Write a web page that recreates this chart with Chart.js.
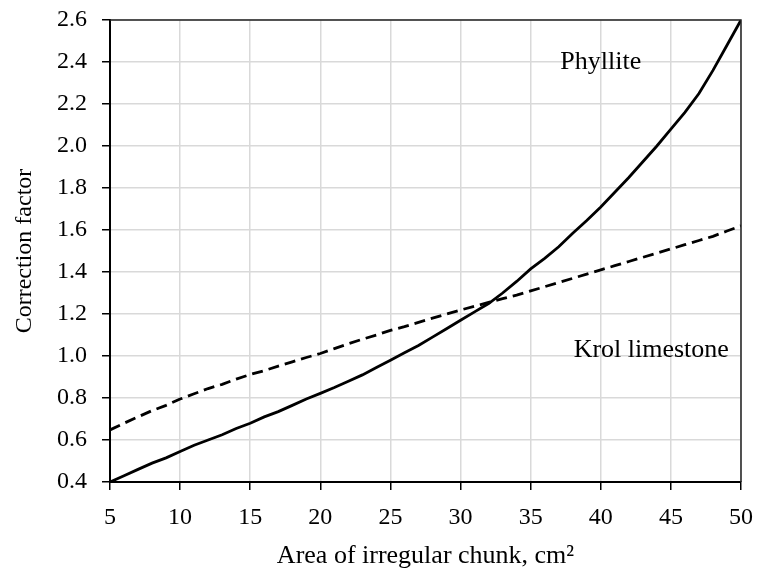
<!DOCTYPE html>
<html>
<head>
<meta charset="utf-8">
<script src="https://cdn.jsdelivr.net/npm/chart.js@4.4.0/dist/chart.umd.min.js"></script>
<style>
  html, body { margin: 0; padding: 0; background: #fff; }
  #wrap { width: 757px; height: 572px; }
</style>
</head>
<body>
<div id="wrap"><canvas id="grafico" width="757" height="572"></canvas></div>
<script>
// ── Datos ────────────────────────────────────────────────────
const areas = [5, 6, 7, 8, 9, 10, 11, 12, 13, 14, 15, 16, 17, 18, 19, 20, 21, 22, 23, 24, 25, 26, 27,
  28, 29, 30, 31, 32, 33, 34, 35, 36, 37, 38, 39, 40, 41, 42, 43, 44, 45, 46, 47, 48, 49, 50];

const phyllite = [0.40, 0.43, 0.46, 0.49, 0.515, 0.545, 0.575, 0.60, 0.625, 0.655, 0.68, 0.71, 0.735,
  0.765, 0.795, 0.822, 0.85, 0.88, 0.91, 0.945, 0.98, 1.015, 1.05, 1.09, 1.13, 1.17, 1.21, 1.25,
  1.30, 1.355, 1.415, 1.465, 1.52, 1.585, 1.645, 1.71, 1.78, 1.85, 1.925, 2.00, 2.08, 2.16, 2.25,
  2.36, 2.48, 2.60];

const krol = [0.648, 0.68, 0.71, 0.74, 0.765, 0.795, 0.82, 0.845, 0.865, 0.89, 0.912, 0.93, 0.952,
  0.972, 0.993, 1.012, 1.035, 1.058, 1.08, 1.10, 1.122, 1.14, 1.16, 1.18, 1.20, 1.219, 1.237, 1.255,
  1.273, 1.29, 1.31, 1.33, 1.35, 1.37, 1.39, 1.41, 1.43, 1.45, 1.47, 1.49, 1.51, 1.53, 1.55, 1.57,
  1.595, 1.62];

const xTicks = [5, 10, 15, 20, 25, 30, 35, 40, 45, 50];
const yTicks = [0.4, 0.6, 0.8, 1.0, 1.2, 1.4, 1.6, 1.8, 2.0, 2.2, 2.4, 2.6];

// etiquetas dentro del área del gráfico (coordenadas en unidades de datos)
const etiquetas = [
  { texto: 'Phyllite', x: 40, y: 2.40 },
  { texto: 'Krol limestone', x: 43.6, y: 1.03 }
];

const FUENTE = '"Liberation Serif", "Times New Roman", serif';

// marco superior/derecho + textos
const marcoYTextos = {
  id: 'marcoYTextos',
  afterDraw(chart) {
    const { ctx, chartArea: a, scales } = chart;
    ctx.save();
    ctx.strokeStyle = '#222';
    ctx.lineWidth = 1.5;
    ctx.beginPath();
    ctx.moveTo(a.left, a.top);
    ctx.lineTo(a.right, a.top);
    ctx.lineTo(a.right, a.bottom);
    ctx.stroke();

    ctx.fillStyle = '#000';
    ctx.font = '26px ' + FUENTE;
    ctx.textAlign = 'center';
    ctx.textBaseline = 'middle';
    etiquetas.forEach(e => {
      ctx.fillText(e.texto, scales.x.getPixelForValue(e.x), scales.y.getPixelForValue(e.y));
    });
    ctx.restore();
  }
};

const ctx = document.getElementById('grafico').getContext('2d');
new Chart(ctx, {
  type: 'line',
  data: {
    datasets: [
      {
        label: 'Phyllite',
        data: areas.map((a, i) => ({ x: a, y: phyllite[i] })),
        borderColor: '#000',
        borderWidth: 2.8,
        pointRadius: 0,
        tension: 0,
        fill: false
      },
      {
        label: 'Krol limestone',
        data: areas.map((a, i) => ({ x: a, y: krol[i] })),
        borderColor: '#000',
        borderWidth: 2.8,
        borderDash: [11, 6],
        pointRadius: 0,
        tension: 0,
        fill: false
      }
    ]
  },
  options: {
    responsive: false,
    animation: false,
    layout: { padding: { top: 20, right: 16, left: 0, bottom: 0 } },
    plugins: {
      legend: { display: false },
      tooltip: { enabled: false }
    },
    scales: {
      x: {
        type: 'linear',
        min: 5, max: 50,
        afterBuildTicks: s => { s.ticks = xTicks.map(v => ({ value: v })); },
        afterFit: s => { s.height = 90; s.paddingLeft = 0; s.paddingRight = 0; },
        grid: { color: '#d9d9d9', lineWidth: 1.5, tickColor: '#000', tickLength: 8, tickWidth: 1.5 },
        border: { color: '#000', width: 2 },
        ticks: { color: '#000', padding: 13, maxRotation: 0, font: { family: FUENTE, size: 24 } },
        title: {
          display: true,
          text: 'Area of irregular chunk, cm²',
          color: '#000',
          padding: { top: 0, bottom: 0 },
          font: { family: FUENTE, size: 26 }
        }
      },
      y: {
        min: 0.4, max: 2.6,
        afterBuildTicks: s => { s.ticks = yTicks.map(v => ({ value: v })); },
        afterFit: s => { s.width = 110; s.paddingTop = 0; s.paddingBottom = 0; },
        grid: { color: '#d9d9d9', lineWidth: 1.5, tickColor: '#000', tickLength: 8, tickWidth: 1.5 },
        border: { color: '#000', width: 2 },
        ticks: {
          color: '#000', padding: 15,
          font: { family: FUENTE, size: 24 },
          callback: v => Number(v).toFixed(1)
        },
        title: {
          display: true,
          text: 'Correction factor',
          color: '#000',
          padding: { top: 10, bottom: 0 },
          font: { family: FUENTE, size: 24 }
        }
      }
    }
  },
  plugins: [marcoYTextos]
});
</script>
</body>
</html>
